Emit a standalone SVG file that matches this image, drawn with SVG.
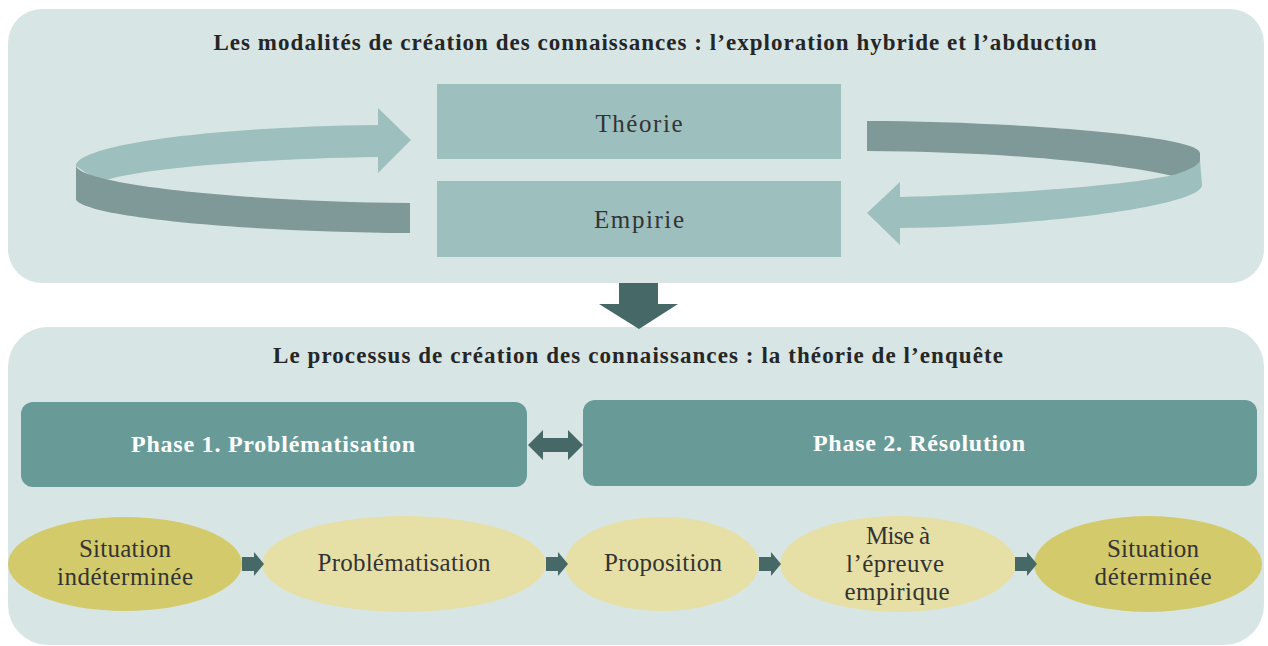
<svg xmlns="http://www.w3.org/2000/svg" width="1268" height="646" viewBox="0 0 1268 646">
<style>
.panel{fill:#d7e5e4}
.t{font-family:"Liberation Serif","Times New Roman",serif;fill:#333;text-anchor:middle}
.title{font-weight:bold;font-size:23px;fill:#262626}
.box{fill:#9dbfbe}
.phase{fill:#689b98}
.ph{font-weight:bold;font-size:24px;fill:#fff}
.lbl{font-size:25px}
.dk{fill:#466866}
.ribL{fill:#9dbfbe}
.ribD{fill:#7e9997}
.ell1{fill:#d3cb6b}
.ell2{fill:#e6e0a6}
</style>
<rect x="0" y="0" width="1268" height="646" fill="#ffffff"/>
<g id="panel-top">
<rect class="panel" x="8" y="9" width="1256" height="274" rx="34"/>
<text class="t title" x="655" y="50" textLength="883">Les modalités de création des connaissances : l’exploration hybride et l’abduction</text>
</g>
<g id="panel-bottom">
<rect class="panel" x="8" y="327" width="1256" height="318" rx="40"/>
<text class="t title" x="638" y="363" textLength="730">Le processus de création des connaissances : la théorie de l’enquête</text>
</g>
<g id="theorie">
<rect class="box" x="437" y="84" width="404" height="75"/>
<text class="t lbl" x="639" y="132" textLength="87">Théorie</text>
</g>
<g id="empirie">
<rect class="box" x="437" y="181" width="404" height="76"/>
<text class="t lbl" x="639" y="228" textLength="90">Empirie</text>
</g>
<g id="phase1">
<rect class="phase" x="21" y="402" width="506" height="85" rx="12"/>
<text class="t ph" x="273" y="452" textLength="284">Phase 1. Problématisation</text>
</g>
<g id="phase2">
<rect class="phase" x="583" y="400" width="674" height="86" rx="12"/>
<text class="t ph" x="919" y="451" textLength="212">Phase 2. Résolution</text>
</g>
<g id="situation-indeterminee">
<ellipse class="ell1" cx="125" cy="564" rx="117" ry="47"/>
<text class="t lbl" x="125" y="557" textLength="92">Situation</text>
<text class="t lbl" x="125" y="585" textLength="136">indéterminée</text>
</g>
<g id="problematisation">
<ellipse class="ell2" cx="404" cy="564" rx="142" ry="48"/>
<text class="t lbl" x="404" y="571" textLength="173">Problématisation</text>
</g>
<g id="proposition">
<ellipse class="ell2" cx="662" cy="564" rx="97" ry="47"/>
<text class="t lbl" x="663" y="571" textLength="118">Proposition</text>
</g>
<g id="mise-a-l-epreuve">
<ellipse class="ell2" cx="898" cy="564" rx="118" ry="48"/>
<text class="t lbl" x="898" y="544" textLength="64">Mise à</text>
<text class="t lbl" x="895" y="572" textLength="98">l’épreuve</text>
<text class="t lbl" x="897" y="600" textLength="105">empirique</text>
</g>
<g id="situation-determinee">
<ellipse class="ell1" cx="1148" cy="564" rx="114" ry="48"/>
<text class="t lbl" x="1153" y="557" textLength="92">Situation</text>
<text class="t lbl" x="1153" y="585" textLength="117">déterminée</text>
</g>
<g id="connectors">
<path class="ribL" d="M76,166 C76,146 200,127 378,125 L378,108 L411,140 L378,173 L378,157 C240,159 130,170 100,182 Z"/>
<path class="ribD" d="M76,166 C82,185 250,202 410,203 L410,233 C250,232 90,218 76,200 Z"/>
<path class="ribD" d="M867,121 C1000,121 1200,135 1200,153 L1200,185 C1180,172 1050,152 867,151 Z"/>
<path class="ribL" d="M867,213 L900,182 L900,197 C1000,195 1130,185 1173,175 C1185,172 1200,165 1200,160 L1202,185 C1202,205 1050,226 900,228 L900,245 Z"/>
<path class="dk" d="M619,283 L658,283 L658,304 L678,304 L639,329 L599,304 L619,304 Z"/>
<path class="dk" d="M528,445 L543,430 L543,438 L568,438 L568,430 L583,445 L568,460 L568,452 L543,452 L543,460 Z"/>
<path class="dk" d="M242,557 L254,557 L254,552 L264,564 L254,576 L254,571 L242,571 Z"/>
<path class="dk" d="M546,557 L558,557 L558,552 L568,564 L558,576 L558,571 L546,571 Z"/>
<path class="dk" d="M759,557 L771,557 L771,552 L781,564 L771,576 L771,571 L759,571 Z"/>
<path class="dk" d="M1015,557 L1027,557 L1027,552 L1037,564 L1027,576 L1027,571 L1015,571 Z"/>
</g>
</svg>
